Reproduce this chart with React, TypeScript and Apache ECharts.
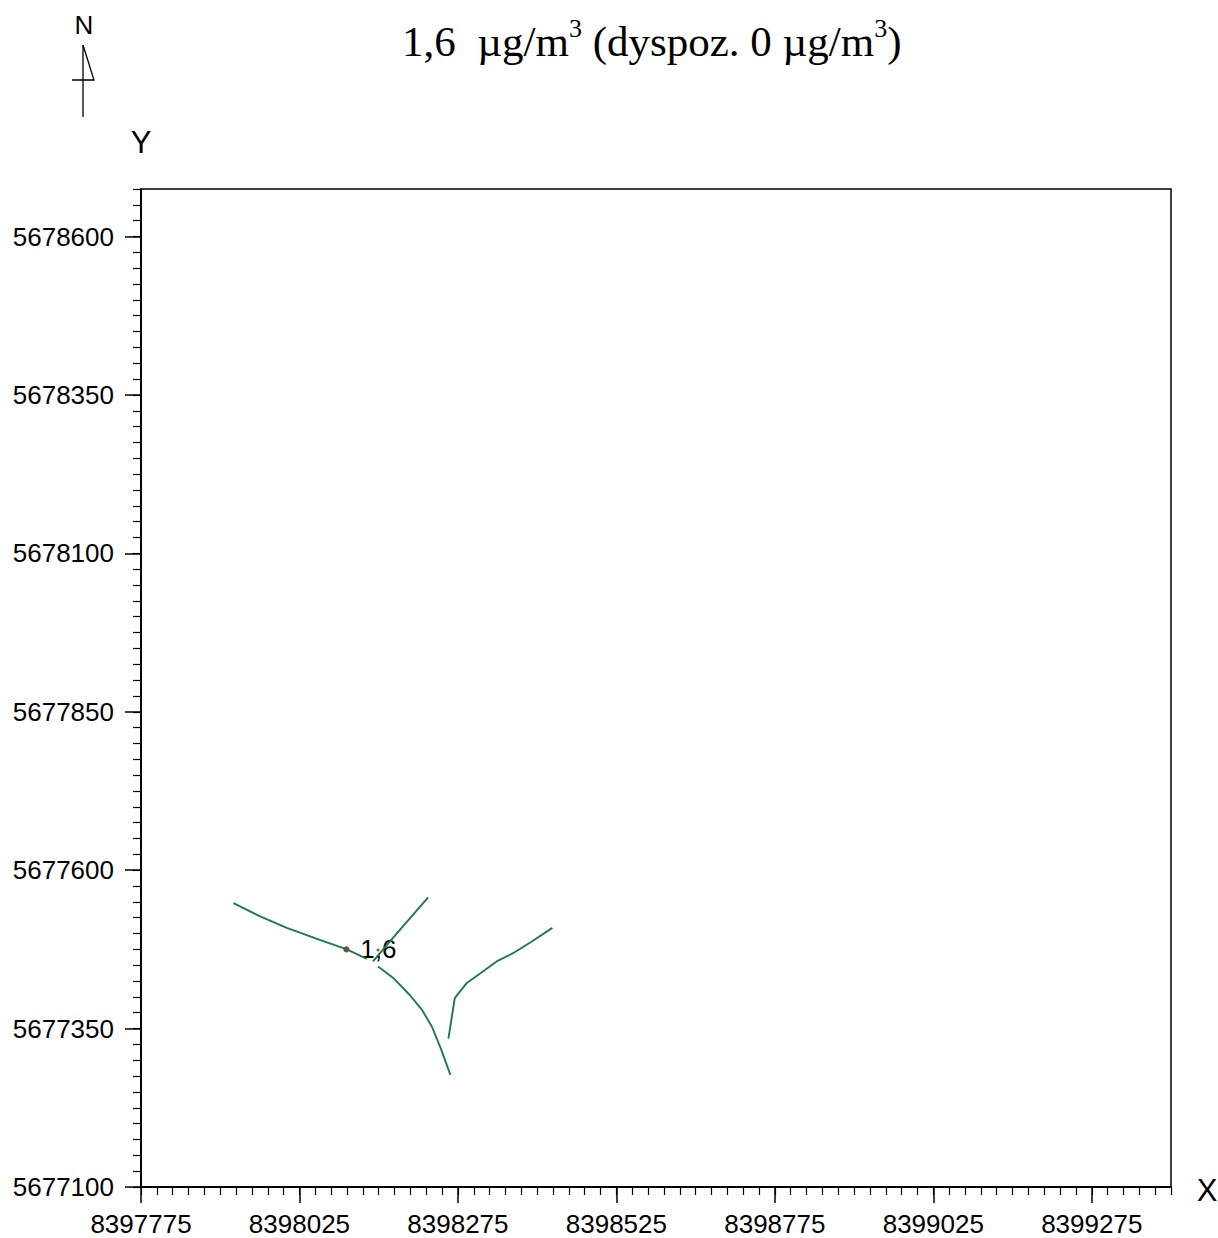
import React, { useEffect, useRef } from "react";
import * as echarts from "echarts";

// Axis extents and tick labels (map coordinates, m)
const X_MIN = 8397775;
const X_MAX = 8399400;
const Y_MIN = 5677100;
const Y_MAX = 5678675;
const xMajorTicks = [8397775, 8398025, 8398275, 8398525, 8398775, 8399025, 8399275];
const yMajorTicks = [5677100, 5677350, 5677600, 5677850, 5678100, 5678350, 5678600];

// Isoline 1,6 µg/m3 – four branches
const isoA: [number, number][] = [
  [8397921, 5677548],
  [8397963, 5677527],
  [8398005, 5677509],
  [8398057, 5677490],
  [8398100, 5677475],
  [8398131, 5677460],
];
const isoB: [number, number][] = [
  [8398141, 5677456],
  [8398181, 5677503],
  [8398228, 5677557],
];
const isoC: [number, number][] = [
  [8398149, 5677448],
  [8398173, 5677430],
  [8398199, 5677403],
  [8398218, 5677380],
  [8398234, 5677353],
  [8398249, 5677316],
  [8398263, 5677277],
];
const isoD: [number, number][] = [
  [8398260, 5677334],
  [8398270, 5677398],
  [8398289, 5677422],
  [8398310, 5677437],
  [8398336, 5677456],
  [8398362, 5677469],
  [8398391, 5677487],
  [8398424, 5677509],
];

// Maximum point and its label
const maxPoint: [number, number] = [8398099, 5677475];
const maxLabel = "1,6";
const auxPoint: [number, number] = [8398149, 5677474];

const titleMain1 = "1,6  µg/m";
const titleMain2 = " (dyspoz. 0 µg/m";
const titleEnd = ")";

const LINE_COLOR = "#1b7a52";

export default function App() {
  const ref = useRef<HTMLDivElement>(null);

  useEffect(() => {
    if (!ref.current) return;
    const chart = echarts.init(ref.current, undefined, { renderer: "svg" });
    const sans = "'Liberation Sans', Arial, sans-serif";
    const serif = "'Liberation Serif', 'Times New Roman', serif";
    const axisLine = { show: true, lineStyle: { color: "#000", width: 1.5 } };
    const isoSeries = [isoA, isoB, isoC, isoD].map((d) => ({
      type: "line",
      data: d,
      xAxisIndex: 0,
      yAxisIndex: 0,
      showSymbol: false,
      symbol: "none",
      smooth: false,
      lineStyle: { color: LINE_COLOR, width: 1.9 },
      silent: true,
    }));
    chart.setOption({
      animation: false,
      backgroundColor: "#fff",
      title: {
        text:
          "{a|" + titleMain1 + "}{s|3}{a|" + titleMain2 + "}{s|3}{a|" + titleEnd + "}",
        left: 397,
        top: 8,
        textStyle: {
          fontWeight: "normal",
          rich: {
            a: {
              fontFamily: serif,
              fontWeight: "normal",
              fontSize: 43,
              color: "#000",
              lineHeight: 50,
              verticalAlign: "bottom",
            },
            s: {
              fontFamily: serif,
              fontWeight: "normal",
              fontSize: 26,
              color: "#000",
              lineHeight: 50,
              verticalAlign: "top",
              padding: [2, 0, 0, 0],
            },
          },
        },
      },
      grid: {
        left: 141,
        top: 189,
        right: 47,
        bottom: 51,
        show: true,
        borderColor: "#000",
        borderWidth: 1.5,
        containLabel: false,
      },
      xAxis: [
        {
          type: "value",
          min: X_MIN,
          max: X_MAX,
          position: "bottom",
          axisLine,
          splitLine: { show: false },
          axisTick: {
            show: true,
            inside: false,
            length: 16,
            customValues: xMajorTicks,
            lineStyle: { color: "#000", width: 1.5 },
          },
          axisLabel: {
            show: true,
            customValues: xMajorTicks,
            formatter: (v: number) => String(v),
            fontFamily: sans,
            fontSize: 26,
            color: "#000",
            margin: 24,
          },
        },
        {
          type: "value",
          min: X_MIN,
          max: X_MAX,
          interval: 25,
          position: "bottom",
          axisLine,
          splitLine: { show: false },
          axisTick: {
            show: true,
            inside: false,
            length: 8,
            lineStyle: { color: "#000", width: 1.2 },
          },
          axisLabel: { show: false },
        },
      ],
      yAxis: [
        {
          type: "value",
          min: Y_MIN,
          max: Y_MAX,
          position: "left",
          axisLine,
          splitLine: { show: false },
          axisTick: {
            show: true,
            inside: false,
            length: 16,
            customValues: yMajorTicks,
            lineStyle: { color: "#000", width: 1.5 },
          },
          axisLabel: {
            show: true,
            customValues: yMajorTicks,
            formatter: (v: number) => String(v),
            fontFamily: sans,
            fontSize: 26,
            color: "#000",
            margin: 27,
          },
        },
        {
          type: "value",
          min: Y_MIN,
          max: Y_MAX,
          interval: 25,
          position: "left",
          axisLine,
          splitLine: { show: false },
          axisTick: {
            show: true,
            inside: false,
            length: 8,
            lineStyle: { color: "#000", width: 1.2 },
          },
          axisLabel: { show: false },
        },
      ],
      series: [
        ...isoSeries,
        {
          type: "scatter",
          data: [maxPoint],
          xAxisIndex: 0,
          yAxisIndex: 0,
          symbol: "circle",
          symbolSize: 6,
          itemStyle: { color: "#9b3a2c", opacity: 1 },
          label: {
            show: true,
            position: "right",
            distance: 11,
            formatter: () => maxLabel,
            fontFamily: sans,
            fontSize: 26,
            color: "#000",
            opacity: 1,
            textBorderWidth: 0,
          },
          silent: true,
        },
        {
          type: "scatter",
          data: [auxPoint],
          xAxisIndex: 0,
          yAxisIndex: 0,
          symbol: "circle",
          symbolSize: 3,
          itemStyle: { color: "#e03030", opacity: 1 },
          silent: true,
        },
      ],
      graphic: [
        {
          type: "text",
          x: 84,
          y: 25,
          style: {
            text: "N",
            font: "26px 'Liberation Sans', Arial, sans-serif",
            fill: "#000",
            align: "center",
            verticalAlign: "middle",
          },
        },
        {
          type: "line",
          shape: { x1: 83, y1: 45, x2: 83, y2: 117 },
          style: { stroke: "#000", lineWidth: 1.3 },
        },
        {
          type: "polyline",
          shape: { points: [[83, 45], [94, 80], [72, 80]] },
          style: { stroke: "#000", lineWidth: 1.3, fill: "none" },
        },
        {
          type: "text",
          x: 141,
          y: 142,
          style: {
            text: "Y",
            font: "31px 'Liberation Sans', Arial, sans-serif",
            fill: "#000",
            align: "center",
            verticalAlign: "middle",
          },
        },
        {
          type: "text",
          x: 1207,
          y: 1190,
          style: {
            text: "X",
            font: "31px 'Liberation Sans', Arial, sans-serif",
            fill: "#000",
            align: "center",
            verticalAlign: "middle",
          },
        },
      ],
    });
    return () => chart.dispose();
  }, []);

  return (
    <div
      ref={ref}
      style={{ position: "fixed", left: 0, top: 0, width: 1218, height: 1238, background: "#fff" }}
    />
  );
}
